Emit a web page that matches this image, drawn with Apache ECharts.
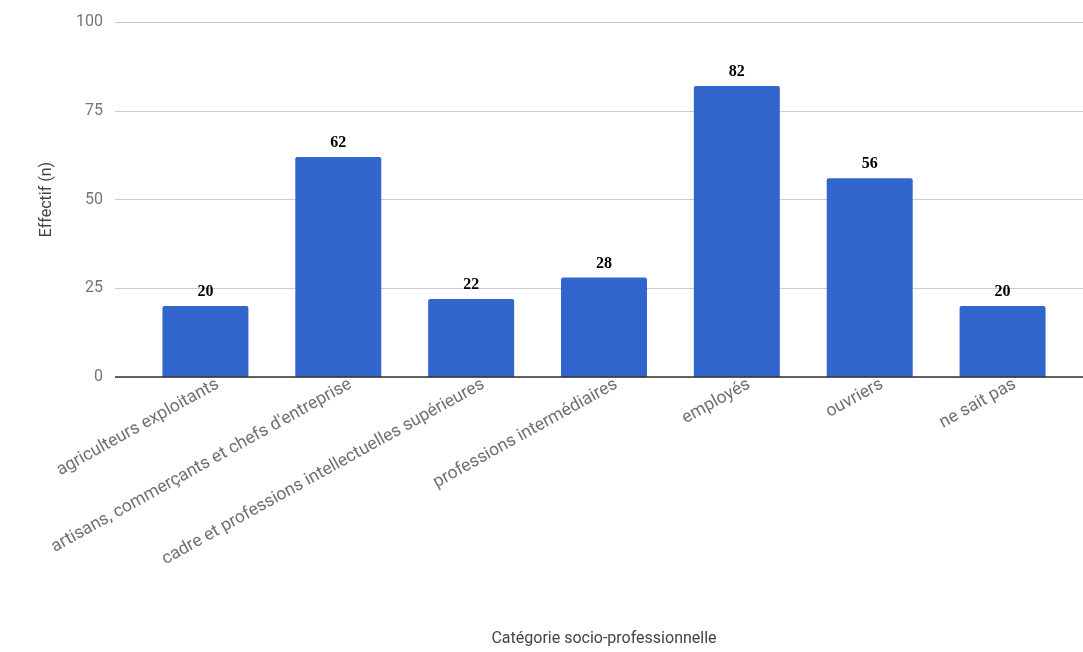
<!DOCTYPE html>
<html><head><meta charset="utf-8">
<script src="https://cdn.jsdelivr.net/npm/echarts@6/dist/echarts.min.js"></script>
<style>html,body{margin:0;padding:0;background:#fff}#c{width:1083px;height:652px}</style>
</head><body><div id="c"></div>
<script>
const categories = ["agriculteurs exploitants","artisans, commerçants et chefs d'entreprise","cadre et professions intellectuelles supérieures","professions intermédiaires","employés","ouvriers","ne sait pas"];
const values = [20, 62, 22, 28, 82, 56, 20];
const yTicks = [0, 25, 50, 75, 100];

const chart = echarts.init(document.getElementById('c'));
chart.setOption({
  animation: false,
  grid: [
    {left: 115, right: 0, top: 22, bottom: 275},
    {left: 139, right: 14, top: 22, bottom: 275}
  ],
  xAxis: [
    {gridIndex: 0, type: 'category', data: [''], show: false},
    {gridIndex: 1, type: 'category', data: categories,
     name: 'Catégorie socio-professionnelle', nameLocation: 'middle', nameGap: 254,
     nameTextStyle: {fontFamily: 'Roboto', fontSize: 16, color: '#444'},
     axisLine: {show: false}, axisTick: {show: false},
     axisLabel: {rotate: 29, interval: 0, margin: 13, padding: [0, -14, 0, 0], fontFamily: 'Roboto', fontSize: 17.5, color: '#707070'}}
  ],
  yAxis: [
    {gridIndex: 0, type: 'value', min: yTicks[0], max: yTicks[yTicks.length-1], interval: 25,
     name: 'Effectif (n)', nameLocation: 'middle', nameGap: 60,
     nameTextStyle: {fontFamily: 'Roboto', fontSize: 16, color: '#444'},
     axisLine: {show: false}, axisTick: {show: false},
     axisLabel: {margin: 12, fontFamily: 'Roboto', fontSize: 16, color: '#757575'},
     splitLine: {lineStyle: {color: '#cccccc', width: 1}}},
    {gridIndex: 1, type: 'value', min: 0, max: 100, interval: 25, show: false}
  ],
  series: [
    {type: 'line', xAxisIndex: 0, yAxisIndex: 0, data: [], silent: true,
     markLine: {silent: true, symbol: 'none', label: {show: false},
       lineStyle: {color: '#333', width: 1.5, type: 'solid'}, data: [{yAxis: 0}]}},
    {type: 'bar', xAxisIndex: 1, yAxisIndex: 1, data: values, barWidth: 86,
     itemStyle: {color: '#3366CC', borderRadius: [2, 2, 0, 0]},
     label: {show: true, position: 'top', distance: 6, fontFamily: 'Liberation Serif', fontWeight: 'bold', fontSize: 16, color: '#000'}}
  ]
});
</script></body></html>
